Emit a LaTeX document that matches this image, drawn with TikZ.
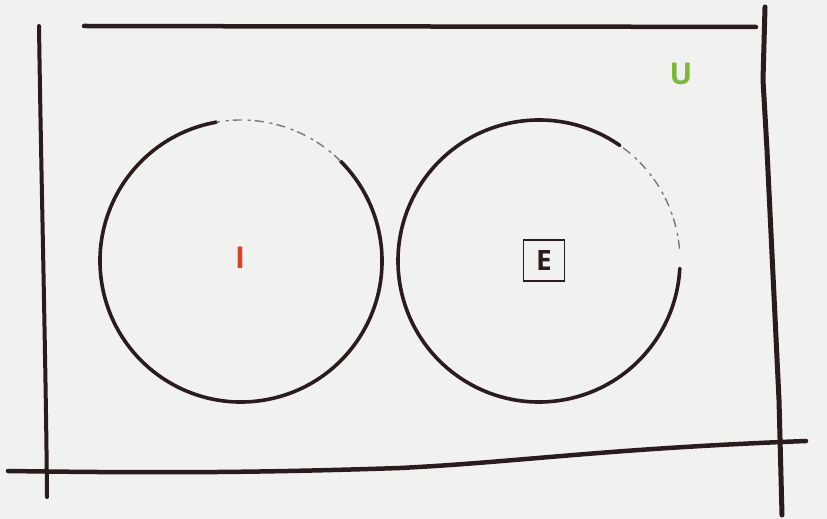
\documentclass[tikz,border=0pt]{standalone}
\usepackage{fontspec}
\setmainfont{Open Sans}
\definecolor{ink}{HTML}{2A1C1C}
\definecolor{paper}{HTML}{F1F1F0}
\definecolor{ired}{HTML}{D8432C}
\definecolor{ugreen}{HTML}{7CB63C}
\begin{document}
\begin{tikzpicture}[x=1pt,y=1pt,
  stroke/.style={draw=ink,line width=4.5pt,line cap=round,line join=round},
  ring/.style={draw=ink,line width=3.6pt,line cap=round},
  faded/.style={draw=ink!60,line width=1.4pt,dash pattern=on 9pt off 4pt on 3pt off 6pt},
  lbl/.style={font=\bfseries\fontsize{30}{30}\selectfont,inner sep=0pt}]
\fill[paper] (0,0) rectangle (827,519);
\useasboundingbox (0,0) rectangle (827,519);
% frame lines
\draw[stroke] (84,493) .. controls (300,492.5) and (550,492.5) .. (756,492);
\draw[stroke,line width=4pt] (39,493) .. controls (41,350) and (46,150) .. (47,22);
\draw[stroke,line width=5pt] (765,512) -- (763,439) -- (767,369) -- (779,119) -- (782,4);
\draw[stroke] (8,48) .. controls (150,46) and (250,46) .. (400,51) .. controls (520,57) and (600,70) .. (806,78);
% circles
\coordinate (c1) at (241,258);
\coordinate (c2) at (539,258);
\draw[ring] ([shift={(100:141)}]c1) arc[start angle=100,end angle=405,radius=141];
\draw[faded] ([shift={(45:141)}]c1) arc[start angle=45,end angle=100,radius=141];
\draw[ring] ([shift={(55:141)}]c2) arc[start angle=55,end angle=357,radius=141];
\draw[faded] ([shift={(5:141)}]c2) arc[start angle=5,end angle=55,radius=141];
% labels
\node[lbl,text=ired] (I) at (240,261) {I};
\node[lbl,text=ink,font=\bfseries\fontsize{28}{28}\selectfont,draw=ink,line width=1.8pt,minimum width=41pt,minimum height=41pt] (E) at (544,258.5) {E};
\node[lbl,text=ugreen] (U) at (681,445) {U};
\end{tikzpicture}
\end{document}
